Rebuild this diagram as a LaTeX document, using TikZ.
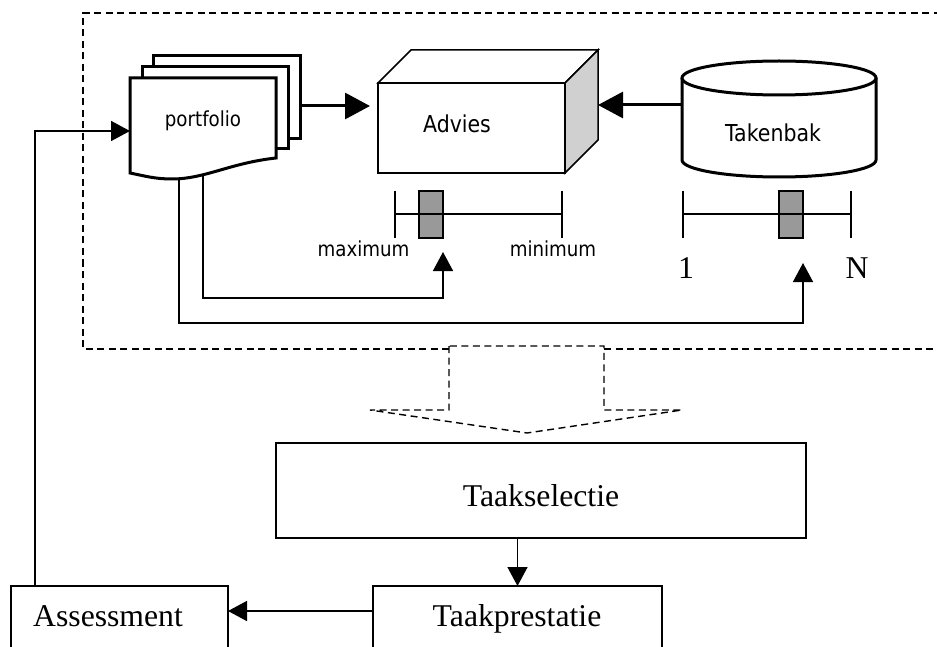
\documentclass[tikz,border=0pt]{standalone}
\usepackage{fontspec}
\setmainfont{Liberation Serif}
\newfontfamily\sansf[FakeStretch=0.88]{DejaVu Sans}
\usetikzlibrary{arrows.meta,calc}
\definecolor{bargray}{RGB}{153,153,153}
\definecolor{sidegray}{RGB}{208,208,208}

\begin{document}
\begin{tikzpicture}[x=1pt,y=-1pt,
  holder/.style={inner sep=0pt,outer sep=0pt,draw=none},
  boxst/.style={draw,line width=1.6pt,inner sep=0pt,outer sep=0pt,fill=white},
  heavy/.style={line width=3pt,line join=miter},
  frame/.style={line width=1.4pt,dash pattern=on 7pt off 4.5pt},
  conn/.style={line width=1.5pt,-{Triangle[length=19pt,width=20pt]}},
  bigconn/.style={line width=3pt,-{Triangle[length=25pt,width=26pt]}},
  scaleline/.style={line width=1.4pt},
  graybar/.style={draw,line width=1.4pt,fill=bargray,inner sep=0pt,outer sep=0pt,
    minimum width=24pt,minimum height=47pt},
  serifbig/.style={font=\fontsize{31.7}{38}\selectfont,inner sep=0pt},
  sansbig/.style={font=\sansf\fontsize{23.3}{28}\selectfont,inner sep=0pt},
  sanssmall/.style={font=\sansf\fontsize{20.7}{25}\selectfont,inner sep=0pt}]

\useasboundingbox (0,0) rectangle (937,647);
\clip (0,0) rectangle (937,647);

% dashed system boundary with the hollow output arrow
\draw[frame] (449,349) -- (83,349) -- (83,13) -- (960,13);
\draw[frame] (604,349) -- (960,349);
\draw[frame] (449,346) -- (449,410) -- (370,410) -- (527,433) -- (682,410)
  -- (604,410) -- (604,346) -- cycle;

% anchors for the portfolio stack
\node[holder,minimum width=146pt,minimum height=95pt] (pf) at (203,125.5) {};
\node[holder,minimum width=170pt,minimum height=123pt] (pfs) at (215,117.5) {};
\coordinate (pfa) at (179,172);
\coordinate (pfb) at (203,170);
\coordinate (rowA) at (0,298);
\coordinate (rowB) at (0,323);

% scales
\node[graybar] (ga) at (431,214.5) {};
\node[graybar] (gb) at (791,214.5) {};
\draw[scaleline] (395,191) -- (395,238) (395,214) -- (562,214) (562,191) -- (562,238);
\draw[scaleline] (683,191) -- (683,238) (683,214) -- (851,214) (851,191) -- (851,238);
\node[sanssmall,anchor=base] (maxl) at (363.5,257) {maximum};
\node[sanssmall,anchor=base] (minl) at (553,257) {minimum};
\node[serifbig,anchor=base] (onel) at (686,278) {1};
\node[serifbig,anchor=base] (nl) at (857,278) {N};

% connectors from the portfolio to the scales
\draw[conn] (pfb) -- (pfb |- rowA) -| ([yshift=-14pt]ga.south east);
\draw[conn] (pfa) -- (pfa |- rowB) -| ([yshift=-25pt]gb.south east);

% portfolio: stacked documents
\draw[heavy,fill=white] (153,56) rectangle (300,139);
\draw[heavy,fill=white] (142,67) rectangle (288,149);
\draw[heavy,fill=white] (130,78) -- (276,78) -- (276,158)
  .. controls (230,163) and (205,179) .. (172,179)
  .. controls (155,179) and (145,176) .. (130,173) -- cycle;
\node[sanssmall,anchor=base] (pflabel) at (203,127) {portfolio};

% Advies: box drawn in perspective
\node[holder,minimum width=187pt,minimum height=90pt] (adv) at (471.5,128) {};
\draw[line width=1.5pt,fill=white,line join=miter] (378,83) -- (411,50) -- (598,50) -- (565,83) -- cycle;
\draw[line width=1.5pt,fill=sidegray,line join=miter] (565,83) -- (598,50) -- (598,140) -- (565,173) -- cycle;
\draw[line width=1.5pt,fill=white] (378,83) rectangle (565,173);
\node[sansbig,anchor=base] (advlabel) at (457,133) {Advies};

% Takenbak: cylinder
\node[holder,minimum width=194pt,minimum height=117pt] (tb) at (779,119) {};
\draw[heavy,fill=white] (682,78) -- (682,160) arc[start angle=180,end angle=360,x radius=97pt,y radius=17pt] -- (876,78);
\draw[heavy,fill=white] (779,78) ellipse[x radius=97pt,y radius=17pt];
\node[sansbig,anchor=base] (tblabel) at (773,142) {Takenbak};

% heavy arrows into Advies
\draw[bigconn] ([yshift=11.5pt]pfs.east) -- ([yshift=22pt,xshift=-8pt]adv.west);
\draw[bigconn] ([yshift=14pt]tb.west) -- ([yshift=23pt,xshift=33pt]adv.east);

% lower process boxes
\node[boxst,minimum width=530pt,minimum height=95pt] (ts) at (541,490.5) {};
\node[boxst,minimum width=289pt,minimum height=94pt] (tp) at (517.5,633) {};
\node[boxst,minimum width=217pt,minimum height=94pt] (as) at (119.5,633) {};
\node[serifbig,anchor=base] (tslabel) at (541,506) {Taakselectie};
\node[serifbig,anchor=base] (tplabel) at (517,626) {Taakprestatie};
\node[serifbig,anchor=base west] (aslabel) at (33,626) {Assessment};

\draw[conn] (tp.north |- ts.south) -- (tp.north);
\draw[conn] ([yshift=-25pt]tp.north west) -- ([yshift=-25pt]as.north east);
\draw[conn] ([xshift=24pt]as.north west) |- ([yshift=-5.5pt]pf.west);
\end{tikzpicture}
\end{document}
